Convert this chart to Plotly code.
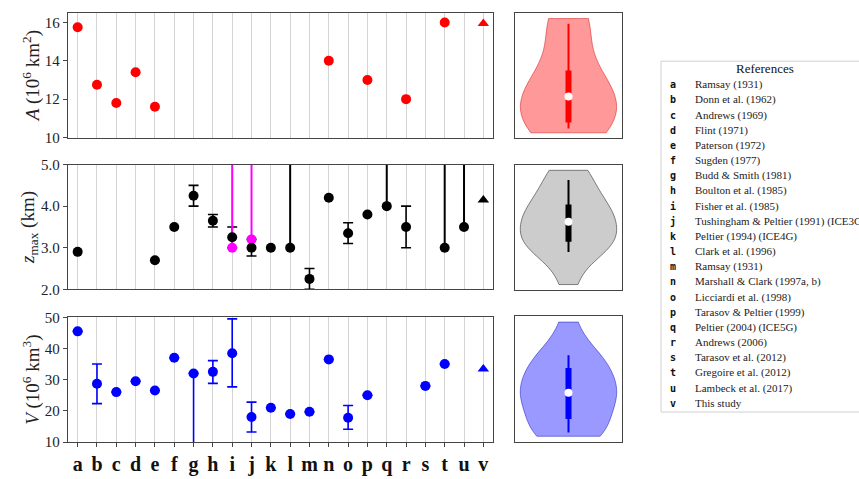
import numpy as np
import plotly.graph_objects as go

# ---------------------------------------------------------------- data
letters = list("abcdefghijklmnopqrstuv")
references = [
    "Ramsay (1931)", "Donn et al. (1962)", "Andrews (1969)", "Flint (1971)",
    "Paterson (1972)", "Sugden (1977)", "Budd & Smith (1981)",
    "Boulton et al. (1985)", "Fisher et al. (1985)",
    "Tushingham & Peltier (1991) (ICE3G)", "Peltier (1994) (ICE4G)",
    "Clark et al. (1996)", "Ramsay (1931)", "Marshall & Clark (1997a, b)",
    "Licciardi et al. (1998)", "Tarasov & Peltier (1999)",
    "Peltier (2004) (ICE5G)", "Andrews (2006)", "Tarasov et al. (2012)",
    "Gregoire et al. (2012)", "Lambeck et al. (2017)", "This study",
]

# ice-sheet area (10^6 km^2)
area_keys = ["a", "b", "c", "d", "e", "n", "p", "r", "t"]
area_vals = [15.75, 12.75, 11.8, 13.4, 11.6, 14.0, 13.0, 12.0, 16.0]
area_this = 15.95

# maximum ice thickness (km)
zmax_keys = ["a", "e", "f", "g", "h", "i", "j", "k", "l", "m", "n", "o",
             "p", "q", "r", "t", "u"]
zmax_vals = [2.9, 2.7, 3.5, 4.25, 3.65, 3.25, 3.0, 3.0, 3.0, 2.25, 4.2, 3.35,
             3.8, 4.0, 3.5, 3.0, 3.5]
# bounded uncertainties (capped bars)
zmax_err_keys = ["g", "h", "i", "j", "m", "o", "r"]
zmax_err_plus = [0.25, 0.15, 0.25, 0.2, 0.25, 0.25, 0.5]
zmax_err_minus = [0.25, 0.15, 0.25, 0.2, 0.25, 0.25, 0.5]
# lower bounds only (open-ended upward)
zmax_lb_keys = ["l", "q", "t", "u"]
zmax_lb_plus = [8.0, 8.0, 8.0, 8.0]
# alternative estimates (lower bounds)
zmax_alt_keys = ["i", "j"]
zmax_alt_vals = [3.0, 3.2]
zmax_alt_plus = [8.0, 8.0]
zmax_this = 4.15

# ice volume (10^6 km^3)
vol_keys = ["a", "b", "c", "d", "e", "f", "g", "h", "i", "j", "k", "l", "m",
            "n", "o", "p", "s", "t"]
vol_vals = [45.5, 28.7, 26.0, 29.5, 26.5, 37.0, 32.0, 32.5, 38.5, 18.0, 21.0,
            19.0, 19.7, 36.5, 17.8, 25.0, 28.0, 35.0]
vol_err_plus = [0, 6.3, 0, 0, 0, 0, 0, 3.6, 11.0, 4.8, 0, 0, 0, 0, 3.9, 0, 0, 0]
vol_err_minus = [0, 6.4, 0, 0, 0, 0, 32.0, 3.7, 10.8, 4.8, 0, 0, 0, 0, 3.7, 0, 0, 0]
vol_this = 33.4

# ---------------------------------------------------------------- style
SERIF = "Liberation Serif"
RED, BLACK, BLUE, MAGENTA = "#ff0000", "#000000", "#0000ff", "#ff00ff"
MS = 10
FRAME = "#444444"
GRID = "#d4d4d4"

fig = go.Figure()

# ---------------------------------------------------------------- area panel
fig.add_trace(go.Scatter(x=area_keys, y=area_vals, mode="markers",
                         marker=dict(color=RED, size=MS), xaxis="x", yaxis="y"))
fig.add_trace(go.Scatter(x=["v"], y=[area_this], mode="markers",
                         marker=dict(color=RED, size=MS, symbol="triangle-up"),
                         xaxis="x", yaxis="y"))

# ---------------------------------------------------------------- zmax panel
zmap = dict(zip(zmax_keys, zmax_vals))
fig.add_trace(go.Scatter(
    x=zmax_err_keys, y=[zmap[k] for k in zmax_err_keys], mode="markers",
    marker=dict(size=0.1, color=BLACK, opacity=0),
    error_y=dict(type="data", symmetric=False, array=zmax_err_plus,
                 arrayminus=zmax_err_minus, color=BLACK, thickness=1.6, width=5),
    xaxis="x2", yaxis="y2"))
fig.add_trace(go.Scatter(
    x=zmax_lb_keys, y=[zmap[k] for k in zmax_lb_keys], mode="markers",
    marker=dict(size=0.1, color=BLACK, opacity=0),
    error_y=dict(type="data", symmetric=False, array=zmax_lb_plus,
                 arrayminus=[0] * len(zmax_lb_keys), color=BLACK,
                 thickness=2, width=0),
    xaxis="x2", yaxis="y2"))
fig.add_trace(go.Scatter(
    x=zmax_alt_keys, y=zmax_alt_vals, mode="markers",
    marker=dict(size=MS, color=MAGENTA),
    error_y=dict(type="data", symmetric=False, array=zmax_alt_plus,
                 arrayminus=[0] * len(zmax_alt_keys), color=MAGENTA,
                 thickness=2, width=0),
    xaxis="x2", yaxis="y2"))
fig.add_trace(go.Scatter(x=zmax_keys, y=zmax_vals, mode="markers",
                         marker=dict(color=BLACK, size=MS), xaxis="x2", yaxis="y2"))
fig.add_trace(go.Scatter(x=["v"], y=[zmax_this], mode="markers",
                         marker=dict(color=BLACK, size=MS, symbol="triangle-up"),
                         xaxis="x2", yaxis="y2"))

# ---------------------------------------------------------------- volume panel
fig.add_trace(go.Scatter(
    x=vol_keys, y=vol_vals, mode="markers",
    marker=dict(color=BLUE, size=MS),
    error_y=dict(type="data", symmetric=False, array=vol_err_plus,
                 arrayminus=vol_err_minus, color=BLUE, thickness=1.6, width=5),
    xaxis="x3", yaxis="y3"))
fig.add_trace(go.Scatter(x=["v"], y=[vol_this], mode="markers",
                         marker=dict(color=BLUE, size=MS, symbol="triangle-up"),
                         xaxis="x3", yaxis="y3"))


# ---------------------------------------------------------------- violins
def violin(vals, fill, edge, dark, xa, ya):
    v = np.asarray(vals, dtype=float)
    bw = len(v) ** (-1.0 / 5.0) * v.std(ddof=1)  # Scott's rule
    fig.add_trace(go.Violin(
        y=v, x0=0, width=0.9, spanmode="hard", bandwidth=bw, points=False,
        fillcolor=fill, line=dict(color=edge, width=1),
        box_visible=False, meanline_visible=False, hoverinfo="skip",
        xaxis=xa, yaxis=ya))
    p10, q1, med, q3, p90 = np.percentile(v, [10, 25, 50, 75, 90])
    fig.add_trace(go.Scatter(x=[0, 0], y=[p10, p90], mode="lines",
                             line=dict(color=dark, width=2), xaxis=xa, yaxis=ya))
    fig.add_trace(go.Scatter(x=[0, 0], y=[q1, q3], mode="lines",
                             line=dict(color=dark, width=6), xaxis=xa, yaxis=ya))
    fig.add_trace(go.Scatter(x=[0], y=[med], mode="markers",
                             marker=dict(color="white", size=8), xaxis=xa, yaxis=ya))
    pad = 0.05 * (v.max() - v.min())
    return [v.min() - pad, v.max() + pad]


r4 = violin(area_vals, "rgba(255,0,0,0.4)", "rgba(200,0,0,0.45)", RED, "x4", "y4")
r5 = violin(zmax_vals, "rgba(128,128,128,0.4)", "rgba(80,80,80,0.7)", BLACK, "x5", "y5")
r6 = violin(vol_vals, "rgba(0,0,255,0.4)", "rgba(0,0,180,0.45)", BLUE, "x6", "y6")

# ---------------------------------------------------------------- layout
W, H = 859, 479


def px_x(a, b):
    return [a / W, b / W]


def px_y(top, bottom):
    return [1 - bottom / H, 1 - top / H]


left_dom = px_x(68, 493)
vio_dom = px_x(515, 622)
rows = [px_y(5, 134), px_y(162, 291), px_y(320, 449)]

tickfont = dict(family=SERIF, size=15, color="#222")
titlefont = dict(family=SERIF, size=19, color="#222")

cat_axis = dict(type="category", categoryorder="array", categoryarray=letters,
                range=[-0.5, len(letters) - 0.5], tickmode="array",
                tickvals=letters, ticktext=[f"<b>{k}</b>" for k in letters],
                showgrid=True, gridcolor=GRID,
                gridwidth=1, showline=True, mirror=True, linecolor=FRAME,
                linewidth=1.3, zeroline=False, domain=left_dom)
val_axis = dict(showgrid=False, showline=True, mirror=True, linecolor=FRAME,
                linewidth=1.3, zeroline=False, ticks="outside", ticklen=4,
                tickcolor=FRAME, tickfont=tickfont, title_font=titlefont,
                title_standoff=0)
vio_x = dict(range=[-0.5, 0.5], showticklabels=False, showgrid=False,
             zeroline=False, showline=True, mirror=True, linecolor=FRAME,
             linewidth=1.3, ticks="", domain=vio_dom)
vio_y = dict(showticklabels=False, showgrid=False, zeroline=False,
             showline=True, mirror=True, linecolor=FRAME, linewidth=1.3,
             ticks="")

fig.update_layout(
    width=W, height=H, margin=dict(l=0, r=0, t=0, b=0), autosize=False,
    paper_bgcolor="white", plot_bgcolor="white", showlegend=False,
    xaxis=dict(cat_axis, anchor="y", showticklabels=False, ticks=""),
    xaxis2=dict(cat_axis, anchor="y2", showticklabels=False, ticks=""),
    xaxis3=dict(cat_axis, anchor="y3", ticks="outside", ticklen=4,
                tickcolor=FRAME,
                tickfont=dict(family=SERIF, size=20, color="#111")),
    yaxis=dict(val_axis, domain=rows[0], anchor="x", range=[10, 16.5],
               tickvals=[10, 12, 14, 16],
               title_text="<i>A</i> (10<sup>6</sup> km<sup>2</sup>)"),
    yaxis2=dict(val_axis, domain=rows[1], anchor="x2", range=[2.0, 5.0],
                tickvals=[2.0, 3.0, 4.0, 5.0], tickformat=".1f",
                title_text="<i>z</i><sub>max</sub> (km)"),
    yaxis3=dict(val_axis, domain=rows[2], anchor="x3", range=[10, 50],
                tickvals=[10, 20, 30, 40, 50],
                title_text="<i>V</i> (10<sup>6</sup> km<sup>3</sup>)"),
    xaxis4=dict(vio_x, anchor="y4"), yaxis4=dict(vio_y, domain=px_y(5, 135), anchor="x4", range=r4),
    xaxis5=dict(vio_x, anchor="y5"), yaxis5=dict(vio_y, domain=px_y(162, 292), anchor="x5", range=r5),
    xaxis6=dict(vio_x, anchor="y6"), yaxis6=dict(vio_y, domain=px_y(319, 449), anchor="x6", range=r6),
)

# ---------------------------------------------------------------- reference key
box_l, box_t, box_b = 661, 55, 418
fig.add_shape(type="rect", xref="paper", yref="paper",
              x0=box_l / W, x1=1.05, y0=1 - box_b / H, y1=1 - box_t / H,
              line=dict(color="#d0d0d0", width=1), fillcolor="white",
              layer="below")
fig.add_annotation(x=765 / W, y=1 - 63 / H, xref="paper", yref="paper",
                   text="References", showarrow=False, xanchor="center",
                   yanchor="middle",
                   font=dict(family=SERIF, size=13, color="#111"))
row0, step = 79.3, 15.7
for i, (k, ref) in enumerate(zip(letters, references)):
    yy = 1 - (row0 + i * step) / H
    fig.add_annotation(x=673 / W, y=yy, xref="paper", yref="paper",
                       text=f"<b>{k}</b>", showarrow=False, xanchor="center",
                       yanchor="middle",
                       font=dict(family="DejaVu Sans Mono", size=10, color="#111"))
    fig.add_annotation(x=693 / W, y=yy, xref="paper", yref="paper",
                       text=ref.replace("&", "&amp;"), showarrow=False,
                       xanchor="left", yanchor="middle",
                       font=dict(family=SERIF, size=11, color="#222"))

fig.write_html("out.html")
